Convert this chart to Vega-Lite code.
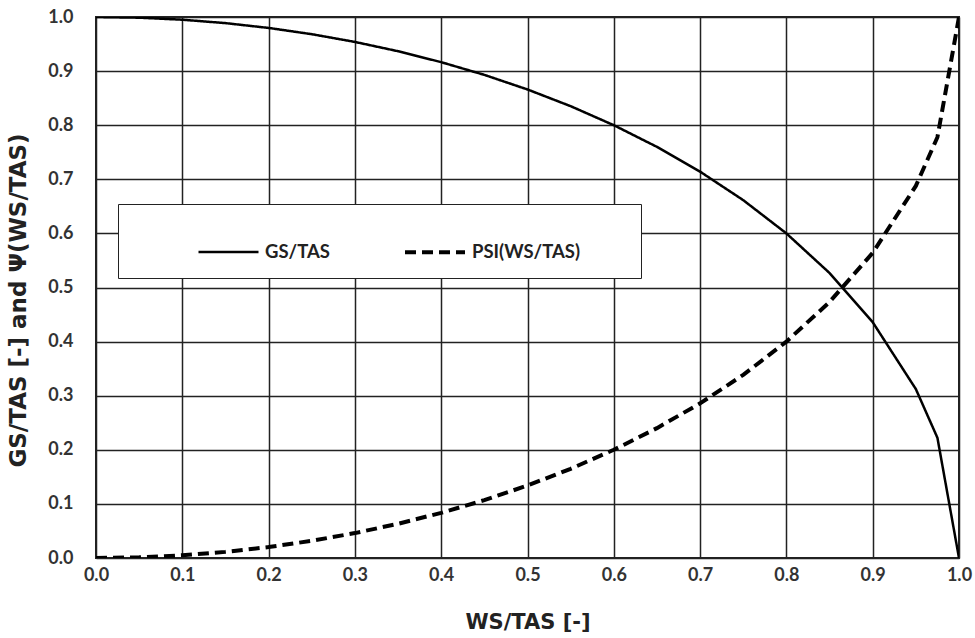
{
  "$schema": "https://vega.github.io/schema/vega-lite/v6.json",
  "width": 863,
  "height": 541,
  "autosize": {"type": "none"},
  "padding": {"left": 96, "top": 17, "right": 16, "bottom": 80},
  "background": "white",
  "data": {
    "values": [
      {"x": 0.0, "series": "GS/TAS", "y": 1.0},
      {"x": 0.05, "series": "GS/TAS", "y": 0.99875},
      {"x": 0.1, "series": "GS/TAS", "y": 0.99499},
      {"x": 0.15, "series": "GS/TAS", "y": 0.98869},
      {"x": 0.2, "series": "GS/TAS", "y": 0.9798},
      {"x": 0.25, "series": "GS/TAS", "y": 0.96825},
      {"x": 0.3, "series": "GS/TAS", "y": 0.95394},
      {"x": 0.35, "series": "GS/TAS", "y": 0.93675},
      {"x": 0.4, "series": "GS/TAS", "y": 0.91652},
      {"x": 0.45, "series": "GS/TAS", "y": 0.89303},
      {"x": 0.5, "series": "GS/TAS", "y": 0.86603},
      {"x": 0.55, "series": "GS/TAS", "y": 0.83516},
      {"x": 0.6, "series": "GS/TAS", "y": 0.8},
      {"x": 0.65, "series": "GS/TAS", "y": 0.75993},
      {"x": 0.7, "series": "GS/TAS", "y": 0.71414},
      {"x": 0.75, "series": "GS/TAS", "y": 0.66144},
      {"x": 0.8, "series": "GS/TAS", "y": 0.6},
      {"x": 0.85, "series": "GS/TAS", "y": 0.52678},
      {"x": 0.9, "series": "GS/TAS", "y": 0.43589},
      {"x": 0.95, "series": "GS/TAS", "y": 0.31225},
      {"x": 0.975, "series": "GS/TAS", "y": 0.2222},
      {"x": 1.0, "series": "GS/TAS", "y": 0.0},
      {"x": 0.0, "series": "PSI(WS/TAS)", "y": 0.0},
      {"x": 0.05, "series": "PSI(WS/TAS)", "y": 0.00125},
      {"x": 0.1, "series": "PSI(WS/TAS)", "y": 0.00501},
      {"x": 0.15, "series": "PSI(WS/TAS)", "y": 0.01131},
      {"x": 0.2, "series": "PSI(WS/TAS)", "y": 0.0202},
      {"x": 0.25, "series": "PSI(WS/TAS)", "y": 0.03175},
      {"x": 0.3, "series": "PSI(WS/TAS)", "y": 0.04606},
      {"x": 0.35, "series": "PSI(WS/TAS)", "y": 0.06325},
      {"x": 0.4, "series": "PSI(WS/TAS)", "y": 0.08348},
      {"x": 0.45, "series": "PSI(WS/TAS)", "y": 0.10697},
      {"x": 0.5, "series": "PSI(WS/TAS)", "y": 0.13397},
      {"x": 0.55, "series": "PSI(WS/TAS)", "y": 0.16484},
      {"x": 0.6, "series": "PSI(WS/TAS)", "y": 0.2},
      {"x": 0.65, "series": "PSI(WS/TAS)", "y": 0.24007},
      {"x": 0.7, "series": "PSI(WS/TAS)", "y": 0.28586},
      {"x": 0.75, "series": "PSI(WS/TAS)", "y": 0.33856},
      {"x": 0.8, "series": "PSI(WS/TAS)", "y": 0.4},
      {"x": 0.85, "series": "PSI(WS/TAS)", "y": 0.47322},
      {"x": 0.9, "series": "PSI(WS/TAS)", "y": 0.56411},
      {"x": 0.95, "series": "PSI(WS/TAS)", "y": 0.68775},
      {"x": 0.975, "series": "PSI(WS/TAS)", "y": 0.7778},
      {"x": 1.0, "series": "PSI(WS/TAS)", "y": 1.0}
    ]
  },
  "mark": {"type": "line", "color": "black", "strokeCap": "butt", "clip": true},
  "encoding": {
    "x": {
      "field": "x", "type": "quantitative",
      "scale": {"domain": [0, 1], "nice": false, "zero": false},
      "axis": {
        "title": "WS/TAS [-]",
        "values": [0, 0.1, 0.2, 0.3, 0.4, 0.5, 0.6, 0.7, 0.8, 0.9, 1.0],
        "format": ".1f",
        "labelFlush": false,
        "titleY": 64, "titleBaseline": "middle",
        "titleFontSize": 21,
        "labelPadding": 8
      }
    },
    "y": {
      "field": "y", "type": "quantitative",
      "scale": {"domain": [0, 1], "nice": false},
      "axis": {
        "title": "GS/TAS [-] and Ψ(WS/TAS)",
        "values": [0, 0.1, 0.2, 0.3, 0.4, 0.5, 0.6, 0.7, 0.8, 0.9, 1.0],
        "format": ".1f",
        "labelFlush": false,
        "titleX": -78, "titleY": 283, "titleAngle": 270,
        "titleAlign": "center", "titleBaseline": "middle",
        "titleFontSize": 23,
        "labelPadding": 23
      }
    },
    "strokeDash": {
      "field": "series", "type": "nominal",
      "scale": {"domain": ["GS/TAS", "PSI(WS/TAS)"], "range": [[1, 0], [11, 6]]},
      "legend": {
        "title": "\u00a0",
        "titleOrient": "right",
        "titlePadding": 45,
        "titleFontSize": 10,
        "orient": "none",
        "legendX": 22, "legendY": 187,
        "direction": "horizontal",
        "padding": 16,
        "symbolOffset": 63,
        "symbolType": "stroke",
        "symbolSize": 3600,
        "symbolStrokeWidth": 3.5,
        "symbolStrokeColor": "black",
        "columnPadding": 10,
        "labelFont": "Lato", "labelFontSize": 18.5, "labelFontWeight": "bold",
        "labelColor": "#222", "labelOffset": 5,
        "strokeColor": "#222", "fillColor": "white"
      }
    },
    "strokeWidth": {
      "field": "series", "type": "nominal",
      "scale": {"domain": ["GS/TAS", "PSI(WS/TAS)"], "range": [2.5, 4]},
      "legend": null
    }
  },
  "config": {
    "view": {"stroke": "#222", "strokeWidth": 2},
    "axis": {
      "grid": true, "gridColor": "#222", "gridOpacity": 1, "gridWidth": 1.5,
      "domain": false, "ticks": false,
      "labelFont": "Lato", "labelFontSize": 18, "labelFontWeight": "bold", "labelColor": "#333",
      "titleFont": "DejaVu Sans", "titleFontSize": 19, "titleFontWeight": "bold", "titleColor": "#222"
    }
  }
}
